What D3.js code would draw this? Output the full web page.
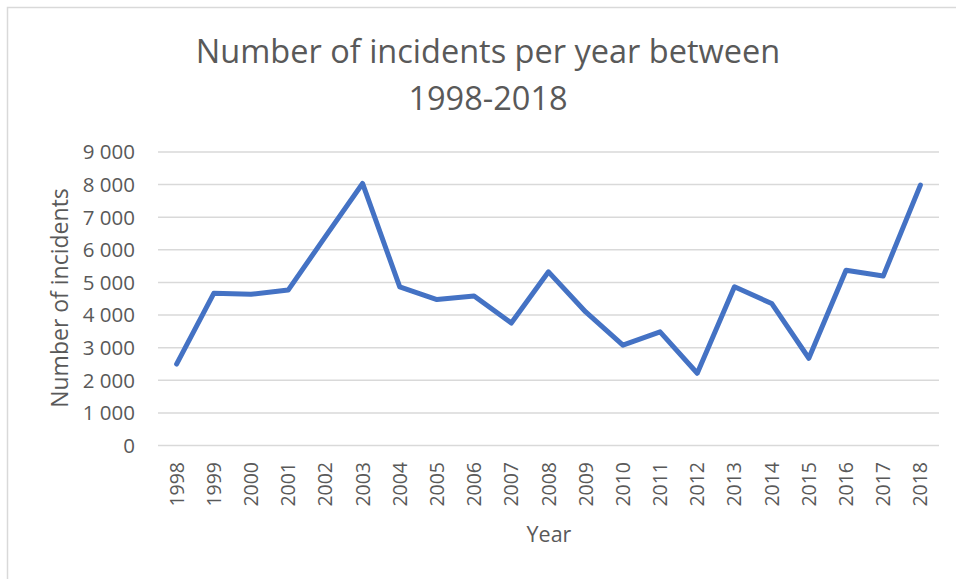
<!DOCTYPE html>
<html lang="en">
<head>
    <meta charset="UTF-8">
    <title>Number of incidents</title>
    <script src="https://d3js.org/d3.v7.min.js"></script>
    <style>
        body {
            margin: 0;
            background: #fff;
        }

        .grid line {
            stroke: #d9d9d9;
            stroke-width: 1.5;
        }

        .tick text {
            font-family: "Open Sans", sans-serif;
            fill: #595959;
        }

        .title, .axis-title {
            font-family: "Open Sans", sans-serif;
            fill: #595959;
        }
    </style>
</head>
<body>
<script>
    var years = ["1998", "1999", "2000", "2001", "2002", "2003", "2004", "2005", "2006", "2007",
        "2008", "2009", "2010", "2011", "2012", "2013", "2014", "2015", "2016", "2017", "2018"];
    var incidents = [2480, 4650, 4620, 4750, 6390, 8020, 4850, 4460, 4570, 3740,
        5310, 4080, 3060, 3470, 2200, 4850, 4340, 2660, 5360, 5180, 7970];
    var yTicks = [0, 1000, 2000, 3000, 4000, 5000, 6000, 7000, 8000, 9000];
    var titleLines = ["Number of incidents per year between", "1998-2018"];

    var width = 956,
        height = 579,
        plot = {left: 158, right: 939, top: 151.5, bottom: 445};

    var svg = d3.select("body").append("svg")
        .attr("width", width)
        .attr("height", height);

    // chart frame (only left/top edges visible in the crop)
    svg.append("rect")
        .attr("x", 7.5).attr("y", 7.5)
        .attr("width", 1000).attr("height", 1000)
        .attr("fill", "none")
        .attr("stroke", "#d9d9d9")
        .attr("stroke-width", 1.5);

    var x = d3.scaleBand()
        .domain(years)
        .range([plot.left, plot.right]);

    var y = d3.scaleLinear()
        .domain([0, 9000])
        .range([plot.bottom, plot.top]);

    var fmt = function (d) {
        return d3.format(",")(d).replace(/,/g, " ");
    };

    // gridlines + y labels
    var yAxis = svg.append("g")
        .attr("class", "grid")
        .attr("transform", "translate(" + plot.left + ",0)")
        .call(d3.axisLeft(y)
            .tickValues(yTicks)
            .tickSize(-(plot.right - plot.left))
            .tickPadding(23)
            .tickFormat(fmt));
    yAxis.select(".domain").remove();
    yAxis.selectAll(".tick text")
        .style("font-size", "20.5px")
        .attr("dy", "0.36em");

    // x labels, rotated
    var xAxis = svg.append("g")
        .attr("transform", "translate(0," + plot.bottom + ")")
        .call(d3.axisBottom(x).tickSize(0));
    xAxis.select(".domain").remove();
    xAxis.selectAll(".tick text")
        .style("font-size", "19.5px")
        .attr("transform", "rotate(-90)")
        .attr("text-anchor", "end")
        .attr("x", -17)
        .attr("y", 0)
        .attr("dy", "0.36em");

    // line
    var line = d3.line()
        .x(function (d, i) { return x(years[i]) + x.bandwidth() / 2; })
        .y(function (d) { return y(d); });

    svg.append("path")
        .datum(incidents)
        .attr("d", line)
        .attr("fill", "none")
        .attr("stroke", "#4472c4")
        .attr("stroke-width", 5)
        .attr("stroke-linejoin", "round")
        .attr("stroke-linecap", "round");

    // title
    svg.selectAll(".title")
        .data(titleLines)
        .enter().append("text")
        .attr("class", "title")
        .attr("x", 488)
        .attr("y", function (d, i) { return 63 + i * 47; })
        .attr("text-anchor", "middle")
        .style("font-size", "32.5px")
        .text(function (d) { return d; });

    // axis titles
    svg.append("text")
        .attr("class", "axis-title")
        .attr("transform", "translate(68,298) rotate(-90)")
        .attr("text-anchor", "middle")
        .style("font-size", "23px")
        .text("Number of incidents");

    svg.append("text")
        .attr("class", "axis-title")
        .attr("x", 549)
        .attr("y", 542)
        .attr("text-anchor", "middle")
        .style("font-size", "21.5px")
        .text("Year");
</script>
</body>
</html>
